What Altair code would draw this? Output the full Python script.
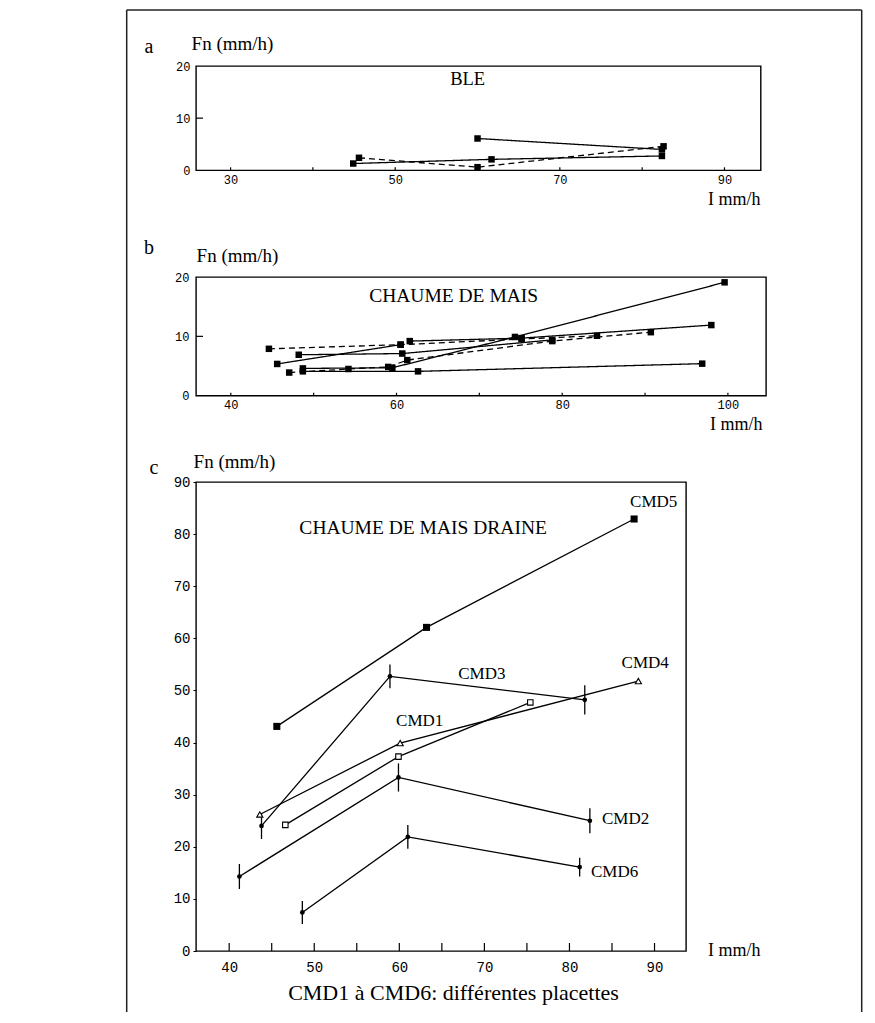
import altair as alt
import pandas as pd

SERIF = "Liberation Serif"
MONO = "Liberation Mono"

# ---------------- Panel a : BLE ----------------
a_series = ["a1", "a1", "a2", "a2", "a2", "a3", "a3", "a3"]
a_style = ["solid", "solid", "solid", "solid", "solid", "dashed", "dashed", "dashed"]
a_I = [60.0, 82.4, 44.9, 61.7, 82.4, 45.6, 60.0, 82.6]
a_Fn = [6.1, 4.0, 1.3, 2.1, 2.75, 2.4, 0.6, 4.6]
a_xlabels = [30, 50, 70, 90]
a_xticks = [30, 40, 50, 60, 70, 80, 90]
a_ylabels = [0, 10, 20]
a_title = ["BLE"]
a_title_I = [58.8]
a_title_Fn = [17.6]

# ---------------- Panel b : CHAUME DE MAIS ----------------
b_series = (["b1"] * 4 + ["b2"] * 3 + ["b3"] * 2 + ["b4"] * 3 + ["b5"] * 4
            + ["b6"] * 6 + ["b7"] * 3)
b_style = (["dashed"] * 4 + ["solid"] * 3 + ["solid"] * 2 + ["solid"] * 3 + ["solid"] * 4
           + ["dashed"] * 6 + ["solid"] * 3)
b_I = [44.6, 60.5, 75.1, 84.2,
       48.2, 60.7, 78.8,
       45.6, 60.5,
       61.6, 75.1, 98.0,
       48.7, 59.5, 74.3, 99.6,
       47.05, 54.2, 59.0, 61.3, 78.8, 90.7,
       48.7, 62.6, 96.9]
b_Fn = [7.9, 8.6, 9.55, 10.1,
        6.9, 7.1, 9.4,
        5.35, 8.6,
        9.2, 9.7, 11.9,
        4.6, 4.7, 9.9, 19.1,
        3.9, 4.5, 4.85, 6.0, 9.2, 10.7,
        4.1, 4.1, 5.4]
b_xlabels = [40, 60, 80, 100]
b_xticks = [40, 50, 60, 70, 80, 90, 100]
b_ylabels = [0, 10, 20]
b_title = ["CHAUME DE MAIS"]
b_title_I = [66.9]
b_title_Fn = [16.8]

# ---------------- Panel c : CHAUME DE MAIS DRAINE ----------------
c_series = (["CMD5"] * 3 + ["CMD3"] * 3 + ["CMD1-4"] * 3 + ["sq"] * 3
            + ["CMD2"] * 3 + ["CMD6"] * 3)
c_marker = (["fsquare"] * 3 + ["dot"] * 3 + ["tri"] * 3 + ["osquare"] * 3
            + ["dot"] * 3 + ["dot"] * 3)
c_I = [45.6, 63.2, 87.6,
       43.8, 58.9, 81.8,
       43.6, 60.1, 88.1,
       46.6, 59.9, 75.4,
       41.2, 59.9, 82.4,
       48.6, 61.0, 81.2]
c_Fn = [43.1, 62.1, 82.9,
        24.0, 52.7, 48.2,
        26.2, 39.9, 51.8,
        24.2, 37.3, 47.7,
        14.3, 33.3, 25.0,
        7.4, 21.9, 16.1]
c_err = [0, 0, 0,
         2.5, 2.3, 2.8,
         0, 0, 0,
         0, 0, 0,
         2.4, 2.7, 2.4,
         2.2, 2.3, 1.8]
c_labels = ["CMD5", "CMD3", "CMD4", "CMD1", "CMD2", "CMD6"]
c_label_I = [89.9, 69.7, 88.9, 62.4, 86.6, 85.3]
c_label_Fn = [86.1, 53.2, 55.3, 44.1, 25.3, 15.1]
c_title = ["CHAUME DE MAIS DRAINE"]
c_title_I = [62.8]
c_title_Fn = [81.2]
c_xlabels = [40, 50, 60, 70, 80, 90]
c_xticks = [40, 45, 50, 55, 60, 65, 70, 75, 80, 85, 90]
c_ylabels = [0, 10, 20, 30, 40, 50, 60, 70, 80, 90]

DASH = alt.Scale(domain=["solid", "dashed"], range=[[1, 0], [6, 4]])
BOX = alt.ViewBackground(stroke="black", strokeWidth=1.4, fill="white")


def make_panel(df, xdom, ydom, w, h, xaxis, yaxis, title_df, xticks, tick_len,
               yticks_in, letter, letter_xy, title_size, extra=None):
    xs = alt.Scale(domain=xdom, nice=False, zero=False)
    ys = alt.Scale(domain=ydom, nice=False, zero=False)

    def X(field="I"):
        return alt.X(f"{field}:Q", scale=xs, axis=xaxis)

    def Y(field="Fn"):
        return alt.Y(f"{field}:Q", scale=ys, axis=yaxis)

    layers = []
    if "style" in df.columns:
        lines = alt.Chart(df).mark_line(color="black", strokeWidth=1.3).encode(
            x=X(), y=Y(), detail="s:N", order="idx:Q",
            strokeDash=alt.StrokeDash("style:N", scale=DASH, legend=None))
        pts = alt.Chart(df).mark_point(shape="square", filled=True, color="black",
                                       size=42, opacity=1).encode(x=X(), y=Y())
        layers += [lines, pts]
    if extra is not None:
        layers += extra(X, Y)
    tl = alt.Chart(title_df).mark_text(font=SERIF, fontSize=title_size,
                                       color="black").encode(x=X(), y=Y(), text="t:N")
    ticks_df = pd.DataFrame({"I": xticks})
    tk = alt.Chart(ticks_df).mark_rule(color="black", strokeWidth=1.2).encode(
        x=X(), y=alt.value(h), y2=alt.value(h - tick_len))
    layers += [tl, tk]
    if yticks_in:
        ytk = alt.Chart(pd.DataFrame({"Fn": yticks_in})).mark_rule(
            color="black", strokeWidth=1.2).encode(
            y=Y(), x=alt.value(0), x2=alt.value(7))
        layers.append(ytk)
    one = pd.DataFrame({"k": [0]})
    let = alt.Chart(one).mark_text(font=SERIF, fontSize=20, color="black",
                                   align="center", baseline="middle").encode(
        x=alt.value(letter_xy[0]), y=alt.value(letter_xy[1]), text=alt.value(letter))
    layers.append(let)
    return layers, one


# ---- panel a ----
dfa = pd.DataFrame({"I": a_I, "Fn": a_Fn, "s": a_series, "style": a_style,
                    "idx": range(len(a_I))})
xa = alt.Axis(values=a_xlabels, ticks=False, domain=False, grid=False,
              labelFont=MONO, labelFontSize=12, labelPadding=4, labelColor="black",
              title="I mm/h", titleFont=SERIF, titleFontSize=18, titleFontWeight="normal",
              titleColor="black",
              titleAlign="right", titleBaseline="middle", titleX=564, titleY=29)
ya = alt.Axis(values=a_ylabels, ticks=False, domain=False, grid=False,
              labelFont=MONO, labelFontSize=12, labelPadding=6, labelColor="black",
              title="Fn (mm/h)", titleFont=SERIF, titleFontSize=19, titleColor="black",
              titleFontWeight="normal", titleAngle=0, titleAlign="center",
              titleBaseline="middle", titleX=36, titleY=-23)
la, one = make_panel(dfa, [25.8, 94.4], [0, 20], 564.7, 104.3, xa, ya,
                     pd.DataFrame({"I": a_title_I, "Fn": a_title_Fn, "t": a_title}),
                     a_xticks, 3, [10], "a", (-47, -19), 18.5)
# outer frame of the figure
frame = [
    alt.Chart(one).mark_rule(color="#222", strokeWidth=1.5).encode(
        x=alt.value(-69.3), y=alt.value(-56), y2=alt.value(946)),
    alt.Chart(one).mark_rule(color="#222", strokeWidth=1.5).encode(
        x=alt.value(665.7), y=alt.value(-56), y2=alt.value(946)),
    alt.Chart(one).mark_rule(color="#222", strokeWidth=1.5).encode(
        x=alt.value(-69.3), x2=alt.value(665.7), y=alt.value(-56)),
]
pa = alt.layer(*(la + frame)).properties(width=564.7, height=104.3, view=BOX)

# ---- panel b ----
dfb = pd.DataFrame({"I": b_I, "Fn": b_Fn, "s": b_series, "style": b_style,
                    "idx": range(len(b_I))})
xb = alt.Axis(values=b_xlabels, ticks=False, domain=False, grid=False,
              labelFont=MONO, labelFontSize=12, labelPadding=4, labelColor="black",
              title="I mm/h", titleFont=SERIF, titleFontSize=18, titleFontWeight="normal",
              titleColor="black",
              titleAlign="right", titleBaseline="middle", titleX=566, titleY=29)
yb = alt.Axis(values=b_ylabels, ticks=False, domain=False, grid=False,
              labelFont=MONO, labelFontSize=12, labelPadding=7, labelColor="black",
              title="Fn (mm/h)", titleFont=SERIF, titleFontSize=19, titleColor="black",
              titleFontWeight="normal", titleAngle=0, titleAlign="center",
              titleBaseline="middle", titleX=41, titleY=-22)
lb, _ = make_panel(dfb, [35.8, 104.6], [0, 20], 570, 118.7, xb, yb,
                   pd.DataFrame({"I": b_title_I, "Fn": b_title_Fn, "t": b_title}),
                   b_xticks, 3, [10], "b", (-47, -29), 19.5)
pb = alt.layer(*lb).properties(width=570, height=118.7, view=BOX)

# ---- panel c ----
dfc = pd.DataFrame({"I": c_I, "Fn": c_Fn, "s": c_series, "m": c_marker,
                    "err": c_err, "idx": range(len(c_I))})
dfc["lo"] = dfc["Fn"] - dfc["err"]
dfc["hi"] = dfc["Fn"] + dfc["err"]
xc = alt.Axis(values=c_xlabels, ticks=False, domain=False, grid=False,
              labelFont=MONO, labelFontSize=14, labelPadding=9, labelColor="black",
              title="CMD1 à CMD6: différentes placettes", titleFont=SERIF,
              titleFontSize=22, titleFontWeight="normal", titleAlign="center",
              titleColor="black",
              titleBaseline="middle", titleX=257, titleY=41)
yc = alt.Axis(values=c_ylabels, ticks=True, tickSize=3, tickColor="black",
              domain=False, grid=False, labelColor="black",
              labelFont=MONO, labelFontSize=14, labelPadding=3,
              title="Fn (mm/h)", titleFont=SERIF, titleFontSize=19, titleColor="black",
              titleFontWeight="normal", titleAngle=0, titleAlign="center",
              titleBaseline="middle", titleX=38, titleY=-21)


def c_extra(X, Y):
    lines = alt.Chart(dfc).mark_line(color="black", strokeWidth=1.3).encode(
        x=X(), y=Y(), detail="s:N", order="idx:Q")
    errs = alt.Chart(dfc[dfc["err"] > 0]).mark_rule(color="black", strokeWidth=1.3).encode(
        x=X(), y=Y("lo"), y2="hi:Q")
    fsq = alt.Chart(dfc[dfc["m"] == "fsquare"]).mark_point(
        shape="square", filled=True, color="black", size=50, opacity=1).encode(x=X(), y=Y())
    dots = alt.Chart(dfc[dfc["m"] == "dot"]).mark_point(
        shape="circle", filled=True, color="black", size=22, opacity=1).encode(x=X(), y=Y())
    tri = alt.Chart(dfc[dfc["m"] == "tri"]).mark_point(
        shape="triangle-up", filled=True, fill="white", stroke="black", strokeWidth=1.1,
        size=38, opacity=1).encode(x=X(), y=Y())
    osq = alt.Chart(dfc[dfc["m"] == "osquare"]).mark_point(
        shape="square", filled=True, fill="white", stroke="black", strokeWidth=1.1,
        size=30, opacity=1).encode(x=X(), y=Y())
    lab = alt.Chart(pd.DataFrame({"I": c_label_I, "Fn": c_label_Fn, "t": c_labels})
                    ).mark_text(font=SERIF, fontSize=17, color="black").encode(
        x=X(), y=Y(), text="t:N")
    imm = alt.Chart(pd.DataFrame({"k": [0]})).mark_text(
        font=SERIF, fontSize=18, color="black", align="left", baseline="middle").encode(
        x=alt.value(512), y=alt.value(469), text=alt.value("I mm/h"))
    return [lines, errs, fsq, dots, tri, osq, lab, imm]


lc, _ = make_panel(pd.DataFrame({"I": [], "Fn": []}), [36.1, 93.7], [0, 90], 490, 469,
                   xc, yc,
                   pd.DataFrame({"I": c_title_I, "Fn": c_title_Fn, "t": c_title}),
                   c_xticks, 8, None, "c", (-42, -14), 19.5, extra=c_extra)
pc = alt.layer(*lc).properties(width=490, height=469, view=BOX)


def spacer(hgt):
    return alt.Chart(pd.DataFrame({"k": [0]})).mark_point(opacity=0).encode(
        x=alt.value(0), y=alt.value(0)
    ).properties(width=1, height=hgt,
                 view=alt.ViewBackground(stroke="transparent", fill="transparent"))


chart = alt.vconcat(pa, spacer(105.7), pb, spacer(85.3), pc,
                    spacing=0, bounds="flush").properties(
    padding={"left": 117, "top": 0, "right": 0, "bottom": 0},
    background="white",
)

chart.save("out.html", embed_options={"renderer": "svg", "actions": False})
